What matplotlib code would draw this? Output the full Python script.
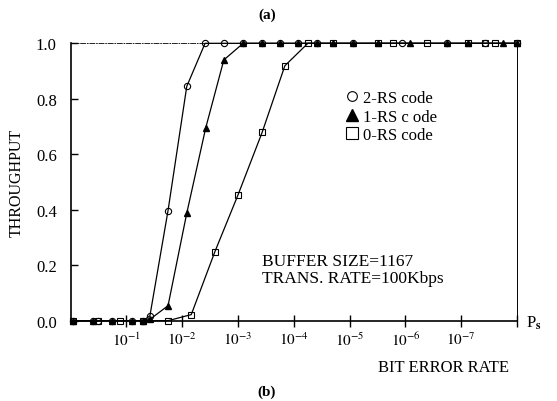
import matplotlib
matplotlib.use("Agg")
import matplotlib.pyplot as plt
from matplotlib.lines import Line2D
from matplotlib.ticker import NullLocator

plt.rcParams['font.family'] = ['Liberation Serif', 'DejaVu Serif']
plt.rcParams['mathtext.fontset'] = 'stix'

# bit error rate (x) and throughput (y)
ber_2rs = [0.9, 0.40, 0.32, 0.18, 0.079, 0.05, 0.038, 0.018, 8.3e-3, 3.9e-3,
           1.8e-3, 8.1e-4, 3.7e-4, 1.8e-4, 8.5e-5, 3.9e-5, 8.7e-6, 1.15e-6,
           1.8e-7, 3.7e-8, 1.0e-8]
thr_2rs = [0, 0, 0, 0, 0, 0, 0.018, 0.397, 0.845, 1,
           1, 1, 1, 1, 1, 1, 1, 1, 1, 1, 1]

ber_1rs = [0.9, 0.40, 0.18, 0.079, 0.05, 0.038, 0.018, 8.3e-3, 3.8e-3, 1.8e-3,
           8.1e-4, 3.7e-4, 1.8e-4, 8.5e-5, 3.9e-5, 2.0e-5, 8.7e-6, 3.1e-6,
           8.3e-7, 1.8e-7, 7.6e-8, 1.8e-8, 1.0e-8]
thr_1rs = [0, 0, 0, 0, 0, 0.005, 0.054, 0.388, 0.695, 0.94,
           1, 1, 1, 1, 1, 1, 1, 1, 1, 1, 1, 1, 1]

ber_0rs = [0.9, 0.32, 0.13, 0.05, 0.018, 6.9e-3, 2.6e-3, 1.0e-3, 3.7e-4, 1.45e-4,
           5.6e-5, 2.0e-5, 3.1e-6, 1.7e-6, 4.1e-7, 7.6e-8, 3.7e-8, 2.5e-8, 1.0e-8]
thr_0rs = [0, 0, 0, 0, 0, 0.022, 0.249, 0.454, 0.679, 0.919,
           1, 1, 1, 1, 1, 1, 1, 1, 1]

xtick_vals = [1e-1, 1e-2, 1e-3, 1e-4, 1e-5, 1e-6, 1e-7, 1e-8]
xtick_labels = [r'$10^{-1}$', r'$10^{-2}$', r'$10^{-3}$', r'$10^{-4}$',
                r'$10^{-5}$', r'$10^{-6}$', r'$10^{-7}$', '']
ytick_vals = [0.0, 0.2, 0.4, 0.6, 0.8, 1.0]

fig = plt.figure(figsize=(5.57, 4.02), dpi=100)
ax = fig.add_axes([70.7/557, 1-321.7/402, (517-70.7)/557, (321.7-44.3)/402])

ax.plot(ber_2rs, thr_2rs, color='black', lw=0.9, marker='o', ms=4.5,
        mfc='none', mec='black', mew=0.8, clip_on=False, zorder=3)
ax.plot(ber_1rs, thr_1rs, color='black', lw=0.9, marker='^', ms=5,
        mfc='black', mec='black', clip_on=False, zorder=3)
ax.plot(ber_0rs, thr_0rs, color='black', lw=0.9, marker='s', ms=4.5,
        mfc='none', mec='black', mew=0.8, clip_on=False, zorder=3)

ax.set_xscale('log')
ax.set_xlim(1, 1e-8)
ax.set_ylim(0, 1)
ax.xaxis.set_minor_locator(NullLocator())
ax.set_xticks(xtick_vals)
ax.set_xticklabels(xtick_labels, fontsize=11)
ax.set_yticks(ytick_vals)
ax.set_yticklabels(['%.1f' % v for v in ytick_vals], fontsize=12)
ax.tick_params(axis='x', direction='inout', length=8, width=1.0, pad=3)
ax.tick_params(axis='y', direction='in', length=5, width=1.0, pad=10)

ax.spines['left'].set_linewidth(1.2)
ax.spines['bottom'].set_linewidth(1.2)
ax.spines['right'].set_linewidth(0.7)
ax.spines['top'].set_linewidth(0.6)
ax.spines['top'].set_linestyle((0, (6, 2, 1, 2)))

ax.set_ylabel('THROUGHPUT', fontsize=11.5, labelpad=8)

handles = [
    Line2D([], [], ls='none', marker='o', ms=7, mfc='none', mec='black', mew=0.8),
    Line2D([], [], ls='none', marker='^', ms=8, mfc='black', mec='black'),
    Line2D([], [], ls='none', marker='s', ms=8, mfc='none', mec='black', mew=0.8),
]
ax.legend(handles, ['2-RS code', '1-RS c ode', '0-RS code'], frameon=False,
          loc='upper left', bbox_to_anchor=(345/557, 1-91/402),
          bbox_transform=fig.transFigure, fontsize=12, handlelength=0.8,
          handletextpad=0.3, labelspacing=0.15, borderpad=0, borderaxespad=0)

fig.text(262/557, 1-262/402, 'BUFFER SIZE=1167', fontsize=12.5, va='center')
fig.text(262/557, 1-279/402, 'TRANS. RATE=100Kbps', fontsize=12.5, va='center')
fig.text(444/557, 1-368/402, 'BIT ERROR RATE', fontsize=12, ha='center', va='center')
fig.text(526/557, 1-323/402, r'P$_{\mathbf{s}}$', fontsize=12, va='center')
fig.text(267/557, 1-15/402, '(a)', fontsize=11, ha='center', va='center', weight='bold')
fig.text(267/557, 1-392/402, '(b)', fontsize=11, ha='center', va='center', weight='bold')

fig.savefig('out.png', dpi=100)
